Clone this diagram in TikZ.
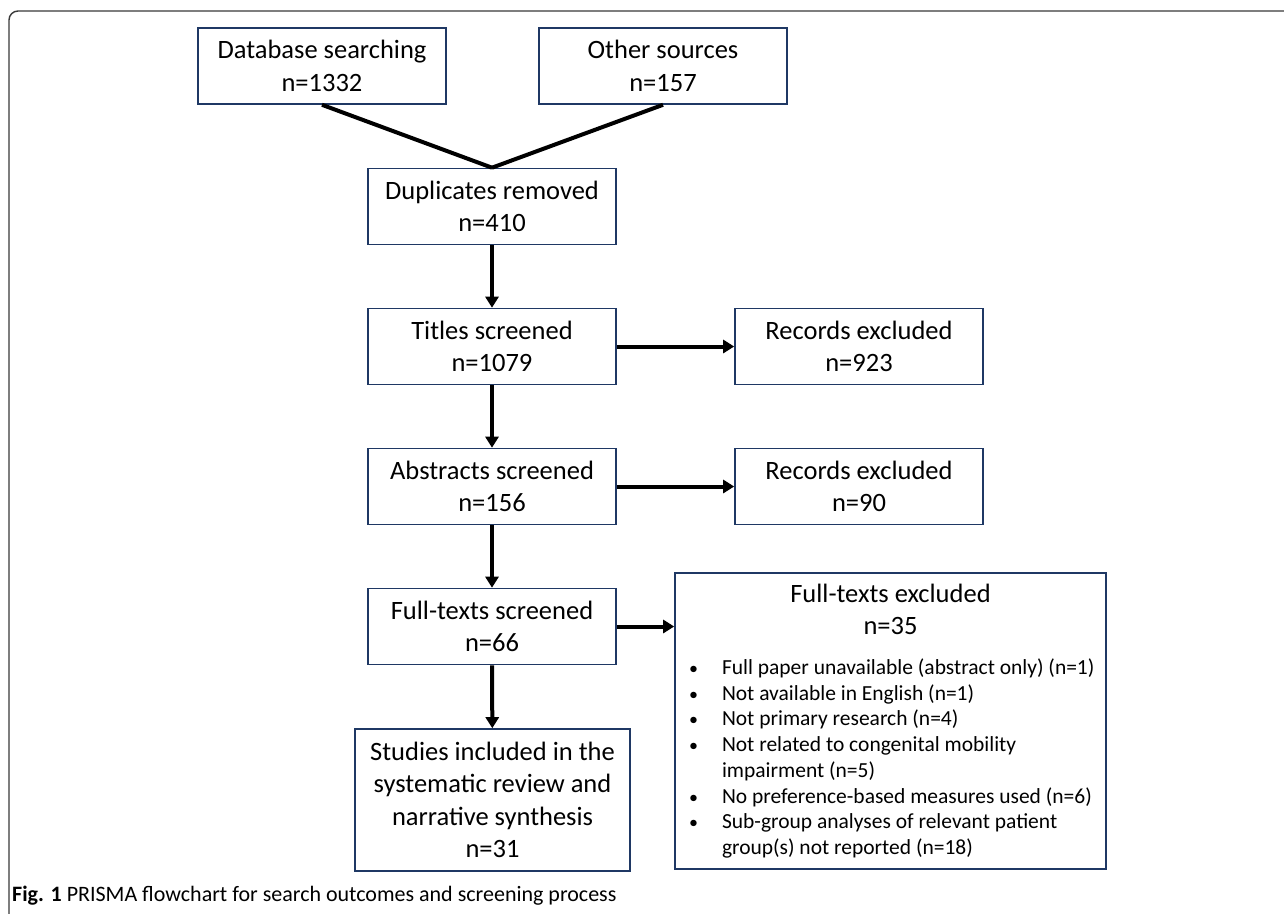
\documentclass[tikz,border=0pt]{standalone}
\usepackage{fontspec}
\setmainfont{Carlito}
\usepackage{tikz}
\usetikzlibrary{arrows.meta}
\definecolor{boxblue}{HTML}{1F3864}
\definecolor{framegray}{HTML}{3A3A3A}
\tikzset{
  box/.style={draw=boxblue, line width=1.6pt, rectangle, align=center, inner sep=2pt,
    minimum width=248pt, minimum height=76pt, font=\fontsize{26.5}{32.5}\selectfont},
  link/.style={line width=4pt},
  flow/.style={line width=4pt, -{Triangle[length=11pt,width=13pt]}}
}
\newcommand{\exbullet}{{\fontsize{18}{18}\selectfont\textbullet}}

\begin{document}
\begin{tikzpicture}[x=1pt, y=-1pt]
			%%%%% START %%%%%
			\useasboundingbox (0, 0) rectangle (1284, 913);
			\fill[white] (0, 0) rectangle (1284, 913);
			
			\draw[framegray, line width=1.4pt, rounded corners=9pt] (9, 916) |- (1290, 11);
			
			\node[box] (db) at (322, 66) {Database searching\\n=1332};
			\node[box] (other) at (663, 66) {Other sources\\n=157};
			\node[box] (dup) at (492, 206.5) {Duplicates removed\\n=410};
			\node[box] (titles) at (492, 346.5) {Titles screened\\n=1079};
			\node[box] (recex1) at (859, 346.5) {Records excluded\\n=923};
			\node[box] (abs) at (492, 486.5) {Abstracts screened\\n=156};
			\node[box] (recex2) at (859, 486.5) {Records excluded\\n=90};
			\node[box] (full) at (492, 626.5) {Full-texts screened\\n=66};
			\node[box, minimum width=275pt, minimum height=142pt] (studies) at (492.5, 800)
				{Studies included in the\\systematic review and\\narrative synthesis\\n=31};
			
			\node[box, minimum width=431pt, minimum height=296pt, inner sep=10pt, text width=411pt, align=left] (fullex) at (890.5, 721) {%
				\spaceskip=0pt \xspaceskip=0pt
				{\centering Full-texts excluded\\n=35\par}
				\vspace{14pt}
				{\fontsize{21.5}{25.7}\selectfont
				\begin{list}{\exbullet}{\setlength{\leftmargin}{37pt}\setlength{\labelwidth}{13pt}%
					\setlength{\labelsep}{24pt}\setlength{\itemsep}{0pt}\setlength{\parsep}{0pt}%
					\setlength{\topsep}{0pt}\setlength{\partopsep}{0pt}\setlength{\rightmargin}{-20pt}}
				\item Full paper unavailable (abstract only) (n=1)
				\item Not available in English (n=1)
				\item Not primary research (n=4)
				\item Not related to congenital mobility\\impairment (n=5)
				\item No preference-based measures used (n=6)
				\item Sub-group analyses of relevant patient\\group(s) not reported (n=18)
				\end{list}\par}};
			
			\draw[link] (db.south) -- (dup.north);
			\draw[link] (other.south) -- (dup.north);
			\draw[flow] (dup) -- (titles);
			\draw[flow] (titles) -- (abs);
			\draw[flow] (abs) -- (full);
			\draw[flow] (full) -- (studies);
			\draw[flow] (titles) -- (recex1);
			\draw[flow] (abs) -- (recex2);
			\draw[flow] (full.east) -- (full.east -| fullex.west);
			
			\node[anchor=base west, inner sep=0pt, font=\fontsize{22}{26}\selectfont] (caption) at (12, 901)
				{\textbf{Fig. 1} PRISMA flowchart for search outcomes and screening process};
			%%%%% END %%%%%
\end{tikzpicture}
\end{document}
